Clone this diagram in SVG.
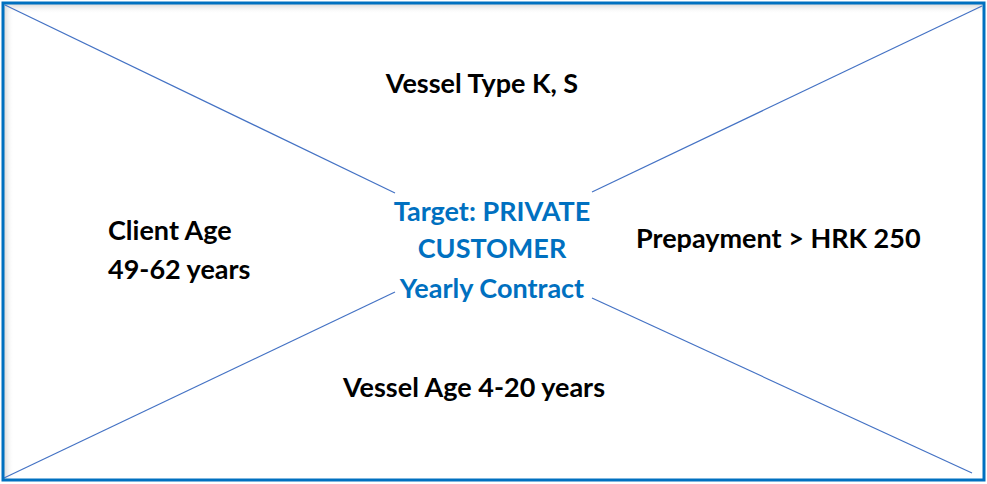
<svg xmlns="http://www.w3.org/2000/svg" width="987" height="484" viewBox="0 0 987 484">
<defs>
<linearGradient id="shT" x1="0" y1="0" x2="0" y2="1"><stop offset="0" stop-color="#d8d8d8"/><stop offset="1" stop-color="#ffffff" stop-opacity="0"/></linearGradient>
<linearGradient id="shL" x1="0" y1="0" x2="1" y2="0"><stop offset="0" stop-color="#d8d8d8"/><stop offset="1" stop-color="#ffffff" stop-opacity="0"/></linearGradient>
<style>
.lbl{font-family:Lato,"Open Sans","Liberation Sans",sans-serif;font-weight:bold;font-size:27px;fill:#000}
.ctr{font-family:Lato,"Open Sans","Liberation Sans",sans-serif;font-weight:bold;font-size:27px;fill:#0070C0}
.ln{stroke:#4472C4;stroke-width:1.2;fill:none}
</style>
</defs>
<rect x="0" y="0" width="987" height="484" fill="#fff"/>
<rect x="4" y="4" width="979" height="10" fill="url(#shT)"/>
<rect x="4" y="4" width="10" height="475" fill="url(#shL)"/>
<g id="connectors">
<line class="ln" x1="5" y1="5" x2="395" y2="193"/>
<line class="ln" x1="982" y1="6" x2="592" y2="192"/>
<line class="ln" x1="4" y1="478" x2="395" y2="292"/>
<line class="ln" x1="592" y1="298" x2="972" y2="473"/>
</g>
<rect x="3" y="3" width="981" height="477" fill="none" stroke="#0070C0" stroke-width="3"/>
<g id="top"><text class="lbl" x="482" y="93" text-anchor="middle">Vessel Type K, S</text></g>
<g id="left"><text class="lbl" x="108" y="240">Client Age</text><text class="lbl" x="108" y="279">49-62 years</text></g>
<g id="center"><text class="ctr" text-anchor="middle"><tspan x="492" y="221">Target: PRIVATE</tspan><tspan x="492" y="258">CUSTOMER</tspan><tspan x="492" y="298">Yearly Contract</tspan></text></g>
<g id="right"><text class="lbl" x="636" y="248">Prepayment &gt; HRK 250</text></g>
<g id="bottom"><text class="lbl" x="474" y="397" text-anchor="middle">Vessel Age 4-20 years</text></g>
</svg>
